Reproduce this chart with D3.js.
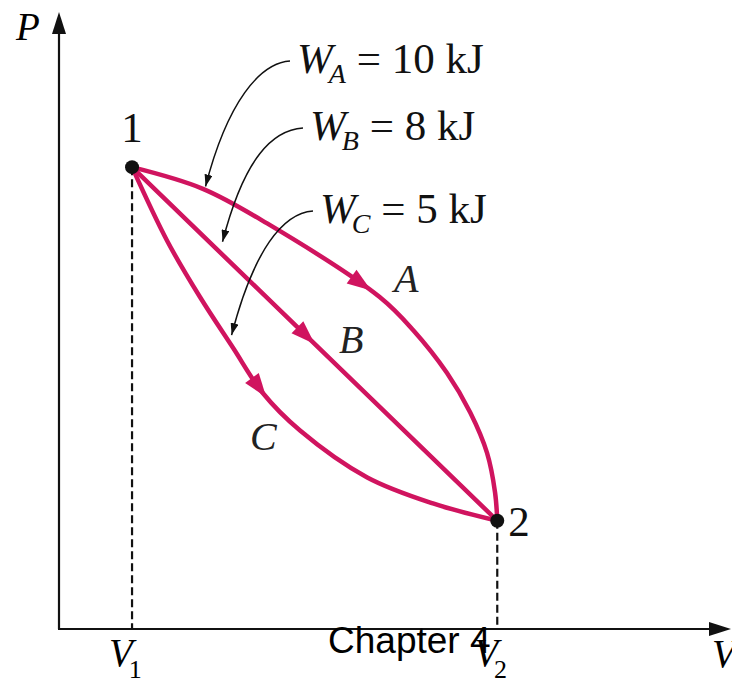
<!DOCTYPE html>
<html>
<head>
<meta charset="utf-8">
<script src="https://d3js.org/d3.v7.min.js"></script>
<style>
  body { margin: 0; background: #fff; }
  svg { display: block; }
</style>
</head>
<body>
<div id="chart"></div>
<script>
// states 1 and 2 (V, P in arbitrary units)
const stateNames = ["1", "2"];
const stateV = [1, 6];
const stateP = [6.4, 1.5];

// processes 1 -> 2 and their work
const processNames = ["A", "B", "C"];
const processWork = [10, 8, 5]; // kJ
const pathA = [[1, 6.4], [1.97, 6.10], [2.85, 5.62], [4.39, 4.60], [4.85, 4.14], [5.31, 3.55], [5.63, 3.00], [5.86, 2.44], [5.97, 1.89], [6, 1.5]];
const pathB = [[1, 6.4], [6, 1.5]];
const pathC = [[1, 6.4], [1.48, 5.38], [1.93, 4.60], [2.38, 3.90], [2.79, 3.27], [3.30, 2.75], [4.22, 2.10], [5.12, 1.74], [6, 1.5]];
const volumeTicks = ["1", "2"];

const width = 732, height = 680;
const magenta = "#d0145f";
const serif = "'Liberation Serif', 'Times New Roman', serif";

const x = d3.scaleLinear().domain([0, 9.2]).range([59, 731]);
const y = d3.scaleLinear().domain([0, 8.55]).range([629, 12]);

const svg = d3.select("#chart").append("svg")
    .attr("width", width)
    .attr("height", height)
    .style("background", "#fff");

// marker for the thin leader arrows
svg.append("defs").append("marker")
    .attr("id", "lead")
    .attr("viewBox", "0 0 12 8")
    .attr("refX", 12).attr("refY", 4)
    .attr("markerWidth", 12).attr("markerHeight", 8)
    .attr("markerUnits", "userSpaceOnUse")
    .attr("orient", "auto")
    .append("path").attr("d", "M0,0L12,4L0,8Z").attr("fill", "#111");

// axes
const x0 = x(0), y0 = y(0);
const xEnd = x.range()[1], yEnd = y.range()[1];
svg.append("line").attr("x1", x0).attr("y1", y0).attr("x2", x0).attr("y2", yEnd + 18)
    .attr("stroke", "#111").attr("stroke-width", 2.2);
svg.append("line").attr("x1", x0 - 1).attr("y1", y0).attr("x2", xEnd - 18).attr("y2", y0)
    .attr("stroke", "#111").attr("stroke-width", 2.2);
svg.append("path").attr("d", `M${x0},${yEnd}L${x0 - 7},${yEnd + 22}L${x0 + 7},${yEnd + 22}Z`).attr("fill", "#111");
svg.append("path").attr("d", `M${xEnd},${y0}L${xEnd - 22},${y0 - 7}L${xEnd - 22},${y0 + 7}Z`).attr("fill", "#111");

// axis titles
svg.append("text").attr("x", x0 - 43).attr("y", yEnd + 28)
    .attr("font-family", serif).attr("font-style", "italic").attr("font-size", 39)
    .text("P");
svg.append("text").attr("x", xEnd - 19).attr("y", y0 + 38)
    .attr("font-family", serif).attr("font-style", "italic").attr("font-size", 39)
    .text("V");

// dashed drop lines and volume tick labels
stateV.forEach((v, i) => {
    svg.append("line")
        .attr("x1", x(v)).attr("x2", x(v))
        .attr("y1", y(stateP[i])).attr("y2", y0)
        .attr("stroke", "#111").attr("stroke-width", 2.2)
        .attr("stroke-dasharray", "8,4");
    const t = svg.append("text")
        .attr("x", x(v) - 23).attr("y", y0 + 37)
        .attr("font-family", serif).attr("font-size", 39);
    t.append("tspan").attr("font-style", "italic").text("V");
    t.append("tspan").attr("font-size", 26).attr("dy", 12).attr("dx", -4).text(volumeTicks[i]);
});

// process curves
const line = d3.line()
    .x(d => x(d[0]))
    .y(d => y(d[1]))
    .curve(d3.curveCatmullRom.alpha(0.5));

const paths = [pathA, pathB, pathC];
const curveNodes = paths.map(p =>
    svg.append("path")
        .attr("d", line(p))
        .attr("fill", "none")
        .attr("stroke", magenta)
        .attr("stroke-width", 4.5)
        .attr("stroke-linecap", "round")
        .node()
);

// direction arrows halfway along each process
curveNodes.forEach(node => {
    const L = node.getTotalLength();
    const tip = node.getPointAtLength(L * 0.5);
    const base = node.getPointAtLength(L * 0.5 - 24);
    const dx = tip.x - base.x, dy = tip.y - base.y;
    const len = Math.hypot(dx, dy);
    const nx = -dy / len * 8.5, ny = dx / len * 8.5;
    svg.append("path")
        .attr("d", `M${tip.x},${tip.y}L${base.x + nx},${base.y + ny}L${base.x - nx},${base.y - ny}Z`)
        .attr("fill", magenta);
});

// process letters
const letterPos = [[394, 292], [339, 353], [250, 450]];
processNames.forEach((n, i) => {
    svg.append("text")
        .attr("x", letterPos[i][0]).attr("y", letterPos[i][1])
        .attr("font-family", serif).attr("font-style", "italic").attr("font-size", 40)
        .attr("fill", "#222")
        .text(n);
});

// work labels with leader arrows
const labelPos = [[297, 73], [310, 140], [320, 223]];
const leaderFrac = [0.14, 0.245, 0.38];
const leaderGap = [3, 12, 9];
processNames.forEach((n, i) => {
    const t = svg.append("text")
        .attr("x", labelPos[i][0]).attr("y", labelPos[i][1])
        .attr("font-family", serif).attr("font-size", 43).attr("fill", "#111");
    t.append("tspan").attr("font-style", "italic").text("W");
    t.append("tspan").attr("font-style", "italic").attr("font-size", 28).attr("dy", 10).attr("dx", -4).text(n);
    t.append("tspan").attr("dy", -10).text(` = ${processWork[i]} kJ`);

    const node = curveNodes[i];
    const p = node.getPointAtLength(node.getTotalLength() * leaderFrac[i]);
    const sx = labelPos[i][0] - 7, sy = labelPos[i][1] - 12;
    const ex = p.x + 1, ey = p.y - leaderGap[i];
    const path = d3.path();
    path.moveTo(sx, sy);
    path.bezierCurveTo(sx - 30, sy + 2, ex + 22, ey - 85, ex, ey);
    svg.append("path")
        .attr("d", path.toString())
        .attr("fill", "none")
        .attr("stroke", "#111")
        .attr("stroke-width", 1.5)
        .attr("marker-end", "url(#lead)");
});

// state points
stateNames.forEach((n, i) => {
    svg.append("circle")
        .attr("cx", x(stateV[i])).attr("cy", y(stateP[i])).attr("r", 7)
        .attr("fill", "#111");
});
svg.append("text")
    .attr("x", x(stateV[0])).attr("y", y(stateP[0]) - 25)
    .attr("text-anchor", "middle")
    .attr("font-family", serif).attr("font-size", 43).attr("fill", "#111")
    .text(stateNames[0]);
svg.append("text")
    .attr("x", x(stateV[1]) + 11).attr("y", y(stateP[1]) + 15)
    .attr("font-family", serif).attr("font-size", 43).attr("fill", "#111")
    .text(stateNames[1]);

// slide caption
svg.append("text")
    .attr("x", 328).attr("y", 653)
    .attr("font-family", "'Liberation Sans', Arial, sans-serif")
    .attr("font-size", 37).attr("fill", "#000")
    .text("Chapter 4");
</script>
</body>
</html>
